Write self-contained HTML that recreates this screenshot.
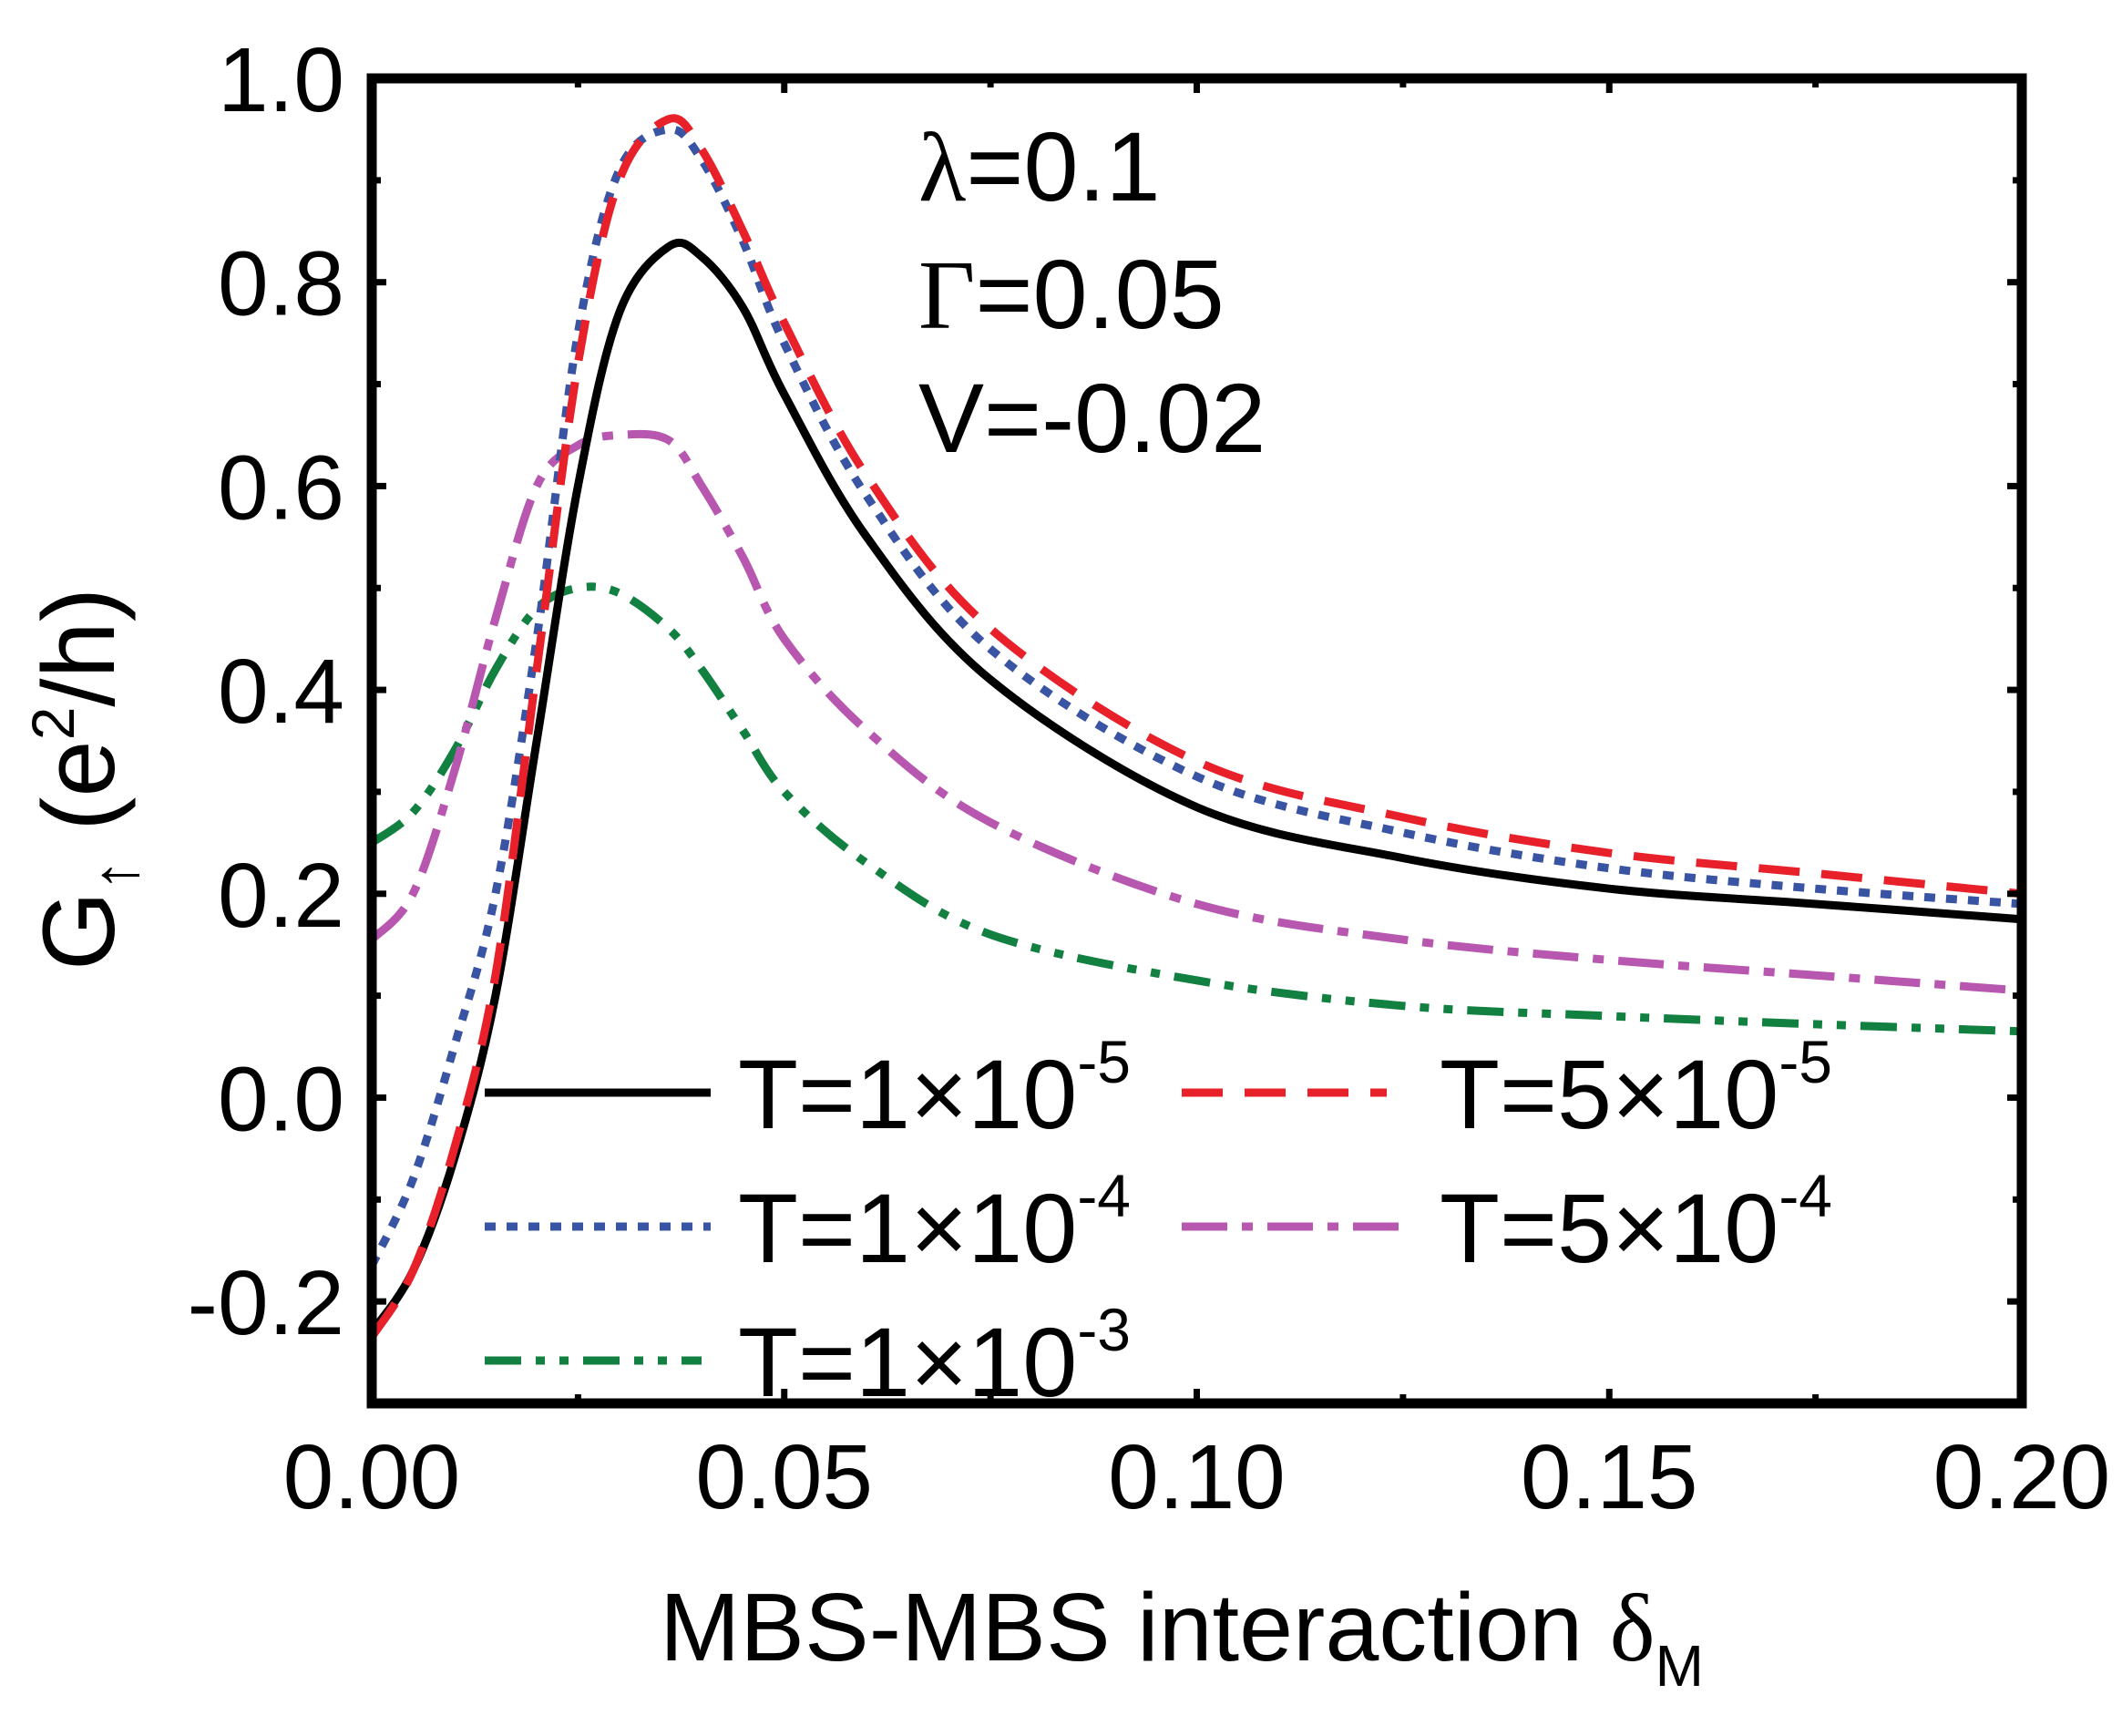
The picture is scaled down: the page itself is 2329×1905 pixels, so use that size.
<!DOCTYPE html>
<html><head><meta charset="utf-8">
<style>
html,body{margin:0;padding:0;background:#fff;}
svg{display:block;font-family:"Liberation Sans",sans-serif;}
</style></head>
<body>
<svg id="chart" width="2329" height="1905" viewBox="0 0 2329 1905">
<g id="plot"></g>
</svg>
<script>
const xTicks=[0,0.05,0.1,0.15,0.2];
const xTickLabels=["0.00","0.05","0.10","0.15","0.20"];
const yTicks=[-0.2,0,0.2,0.4,0.6,0.8,1.0];
const yTickLabels=["-0.2","0.0","0.2","0.4","0.6","0.8","1.0"];
const xs=[0,0.005,0.01,0.015,0.02,0.025,0.03,0.036,0.04,0.045,0.05,0.06,0.075,0.1,0.125,0.15,0.175,0.2];
const gBlack=[-0.23,-0.17,-0.06,0.1,0.35,0.6,0.77,0.835,0.825,0.775,0.69,0.55,0.41,0.285,0.235,0.205,0.19,0.175];
const gRed=[-0.235,-0.17,-0.05,0.12,0.42,0.72,0.9,0.96,0.93,0.85,0.76,0.61,0.46,0.33,0.275,0.24,0.22,0.2];
const gBlue=[-0.165,-0.08,0.05,0.2,0.45,0.75,0.91,0.95,0.92,0.84,0.74,0.59,0.44,0.315,0.26,0.225,0.205,0.19];
const gMag=[0.155,0.2,0.32,0.47,0.6,0.64,0.65,0.645,0.6,0.53,0.45,0.36,0.27,0.19,0.155,0.135,0.12,0.105];
const gGreen=[0.25,0.28,0.34,0.42,0.48,0.5,0.495,0.46,0.42,0.36,0.3,0.23,0.16,0.115,0.09,0.08,0.072,0.065];

const L=408,R=2219,T=86,B=1540;
const X=v=>L+(v-0)/(0.2)*(R-L);
const Y=v=>B-(v+0.3)/1.3*(B-T);
const NS="http://www.w3.org/2000/svg";
const g=document.getElementById('plot');
function mk(tag,attrs,parent){const e=document.createElementNS(NS,tag);for(const k in attrs)e.setAttribute(k,attrs[k]);(parent||g).appendChild(e);return e;}
function path(ys){
  const p=xs.map((x,i)=>[X(x),Y(ys[i])]);
  let d=`M${p[0][0]},${p[0][1]}`;
  for(let i=0;i<p.length-1;i++){
    const p0=p[Math.max(0,i-1)],p1=p[i],p2=p[i+1],p3=p[Math.min(p.length-1,i+2)];
    const c1=[p1[0]+(p2[0]-p0[0])/6,p1[1]+(p2[1]-p0[1])/6];
    const c2=[p2[0]-(p3[0]-p1[0])/6,p2[1]-(p3[1]-p1[1])/6];
    d+=` C${c1[0]},${c1[1]} ${c2[0]},${c2[1]} ${p2[0]},${p2[1]}`;
  }
  return d;
}
const series=[
 {ys:gGreen,c:"#118040",dash:"40 16 10 16 10 16",name:"curve-t-1e-3"},
 {ys:gMag,c:"#b857b0",dash:"50 16 12 16",name:"curve-t-5e-4"},
 {ys:gBlack,c:"#000",dash:"",name:"curve-t-1e-5"},
 {ys:gBlue,c:"#3a54a4",dash:"12 12",name:"curve-t-1e-4"},
 {ys:gRed,c:"#e8202a",dash:"45 24",name:"curve-t-5e-5"}
];
const clip=mk('clipPath',{id:'cp'});mk('rect',{x:L,y:T,width:R-L,height:B-T},clip);
series.forEach(s=>{
  const e=mk('path',{d:path(s.ys),fill:'none',stroke:s.c,'stroke-width':9,'stroke-dasharray':s.dash,'clip-path':'url(#cp)'});
  
  
});
for(let i=0;i<=8;i++){const v=i*0.025;const len=i%2?10:16;
  mk('line',{x1:X(v),x2:X(v),y1:B,y2:B-len,stroke:'#000','stroke-width':7});
  mk('line',{x1:X(v),x2:X(v),y1:T,y2:T+len,stroke:'#000','stroke-width':7});}
for(let i=-3;i<=10;i++){const v=i*0.1;const len=(i%2)?10:16;
  mk('line',{x1:L,x2:L+len,y1:Y(v),y2:Y(v),stroke:'#000','stroke-width':7});
  mk('line',{x1:R,x2:R-len,y1:Y(v),y2:Y(v),stroke:'#000','stroke-width':7});}
xTicks.forEach((v,i)=>{const t=mk('text',{x:X(v),y:1655,'font-size':100,'text-anchor':'middle'});t.textContent=xTickLabels[i];
  
  });
yTicks.forEach((v,i)=>{const t=mk('text',{x:378,y:Y(v)+36,'font-size':100,'text-anchor':'end'});t.textContent=yTickLabels[i];
  
  });
const fr=mk('rect',{x:L,y:T,width:R-L,height:B-T,fill:'none',stroke:'#000','stroke-width':11});


</script>
<svg width="2329" height="1905" style="position:absolute;left:0;top:0">
<g font-family="Liberation Sans, sans-serif" font-size="108">
<text x="1008" y="220"><tspan font-family="Liberation Serif, serif">λ</tspan>=0.1</text>
<text x="1008" y="360"><tspan font-family="Liberation Serif, serif">Γ</tspan>=0.05</text>
<text x="1008" y="496">V=-0.02</text>
<g>
<line x1="532" x2="780" y1="1199" y2="1199" stroke="#000" stroke-width="9"/>
<text x="810" y="1238">T=1×10<tspan dy="-50" font-size="66">-5</tspan></text>
<line x1="1297" x2="1522" y1="1199" y2="1199" stroke="#e8202a" stroke-width="9" stroke-dasharray="45 24"/>
<text x="1580" y="1238">T=5×10<tspan dy="-50" font-size="66">-5</tspan></text>
<line x1="532" x2="780" y1="1346" y2="1346" stroke="#3a54a4" stroke-width="9" stroke-dasharray="12 12"/>
<text x="810" y="1385">T=1×10<tspan dy="-50" font-size="66">-4</tspan></text>
<line x1="1297" x2="1545" y1="1346" y2="1346" stroke="#b857b0" stroke-width="9" stroke-dasharray="50 16 12 16"/>
<text x="1580" y="1385">T=5×10<tspan dy="-50" font-size="66">-4</tspan></text>
<line x1="532" x2="770" y1="1493" y2="1493" stroke="#118040" stroke-width="9" stroke-dasharray="40 16 10 16 10 16"/>
<text x="810" y="1532">T=1×10<tspan dy="-50" font-size="66">-3</tspan></text>
</g>
<text x="724" y="1822" font-size="106">MBS-MBS interaction <tspan font-family="Liberation Serif, serif">δ</tspan><tspan font-size="64" dy="28">M</tspan></text>
<text transform="translate(125,855) rotate(-90)" text-anchor="middle" font-size="112">G<tspan font-size="70" dy="26">↑</tspan><tspan dy="-26"> (e</tspan><tspan font-size="66" dy="-44">2</tspan><tspan dy="44">/h)</tspan></text>
</g>
</svg>
</body></html>
